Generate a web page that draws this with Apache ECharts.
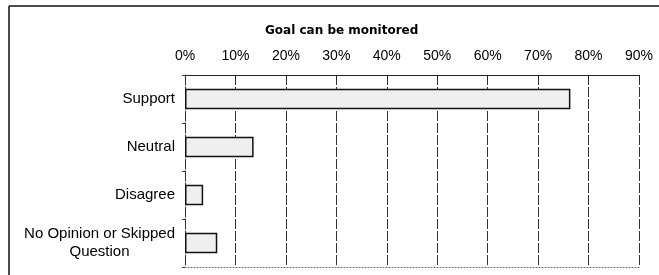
<!DOCTYPE html>
<html>
<head>
<meta charset="utf-8">
<script src="https://cdn.jsdelivr.net/npm/echarts@6/dist/echarts.min.js"></script>
<style>
  html, body { margin: 0; padding: 0; background: #fff; }
  #chart { width: 659px; height: 275px; }
</style>
</head>
<body>
<div id="chart"></div>
<script>
// data
const categories = ["Support", "Neutral", "Disagree", "No Opinion or Skipped\nQuestion"];
const values = [76.4, 13.6, 3.6, 6.4];
const xTicks = [0, 10, 20, 30, 40, 50, 60, 70, 80, 90];

const chart = echarts.init(document.getElementById("chart"), null, { renderer: "canvas" });

const option = {
  backgroundColor: "#fff",
  animation: false,
  textStyle: { fontFamily: "Liberation Sans, Arial, sans-serif" },
  title: {
    text: "Goal can be monitored",
    left: 260,
    top: 20,
    textStyle: { fontSize: 12, fontWeight: "bold", color: "#000", fontFamily: "DejaVu Sans" },
  },
  grid: { left: 185, right: 20, top: 75, bottom: 8 },
  xAxis: [
    {
      type: "value",
      position: "top",
      min: xTicks[0],
      max: xTicks[xTicks.length - 1],
      interval: 10,
      axisLine: { show: true, lineStyle: { color: "#222", width: 1 } },
      axisTick: { show: true, inside: true, length: 5, lineStyle: { color: "#222" } },
      axisLabel: {
        margin: 12,
        color: "#000",
        fontSize: 14,
        formatter: (v) => v + "%",
      },
      splitLine: { show: true, lineStyle: { color: "#333", type: [10, 2], width: 1 } },
    },
    {
      // dotted bottom edge of the plot
      type: "value",
      position: "bottom",
      min: xTicks[0],
      max: xTicks[xTicks.length - 1],
      axisLine: { show: true, lineStyle: { color: "#666", type: [1, 2], width: 1 } },
      axisTick: { show: false },
      axisLabel: { show: false },
      splitLine: { show: false },
    },
  ],
  yAxis: {
    type: "category",
    inverse: true,
    data: categories,
    axisLine: { show: true, lineStyle: { color: "#333", type: [4, 2], width: 1 } },
    axisTick: { show: true, length: 3, lineStyle: { color: "#333" } },
    axisLabel: {
      margin: 10,
      color: "#000",
      fontSize: 15,
      lineHeight: 18,
      formatter: (v) =>
        v
          .split("\n")
          .map((s) => "{c|" + s + "}")
          .join("\n"),
      rich: { c: { align: "center", fontSize: 15, lineHeight: 18, color: "#000" } },
    },
  },
  series: [
    {
      type: "bar",
      data: values,
      barWidth: "43%",
      itemStyle: { color: "#efefef", borderColor: "#111", borderWidth: 1.5 },
    },
  ],
  graphic: [
    // scanned frame: left and top edges
    { type: "line", shape: { x1: 9, y1: 6, x2: 9, y2: 275 }, style: { stroke: "#111", lineWidth: 1.5 } },
    { type: "line", shape: { x1: 9, y1: 6, x2: 659, y2: 6 }, style: { stroke: "#111", lineWidth: 1.5 } },
  ],
};

chart.setOption(option);
</script>
</body>
</html>
